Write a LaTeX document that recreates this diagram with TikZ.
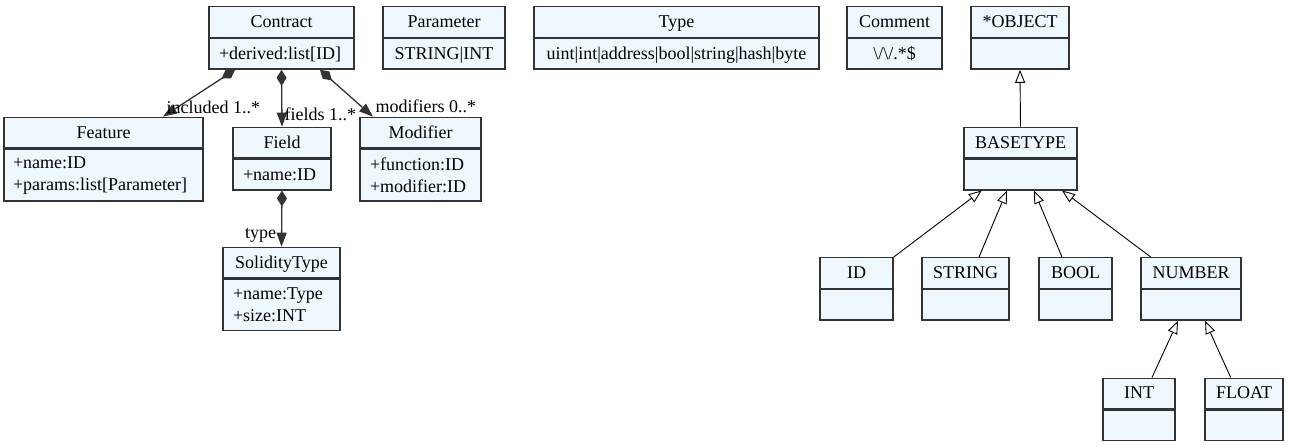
\documentclass[tikz,border=0pt]{standalone}
\usepackage{fontspec}
\setmainfont{Liberation Serif}
\usepackage{tikz}
\usetikzlibrary{positioning,arrows.meta}
\definecolor{classfill}{HTML}{F0F8FF}
\definecolor{classline}{HTML}{333333}

\tikzset{
  head/.style={draw=classline, fill=classfill, line width=1.4pt, anchor=north,
    minimum height=30.5pt, inner sep=0pt, text height=13pt, text depth=2pt},
  body/.style={draw=classline, fill=classfill, line width=1.4pt, anchor=north,
    minimum height=30.5pt, inner xsep=10pt, inner ysep=0pt},
  oneline/.style={text height=13pt, text depth=2pt},
  comp/.style={classline, line width=1.3pt,
    {Diamond[length=16pt,width=10pt]}-{Triangle[length=14pt,width=10pt]}},
  inh/.style={black, line width=0.9pt, -{Triangle[open,length=13pt,width=10pt]}},
  role/.style={inner sep=0pt, text=black}
}

\begin{document}
\begin{tikzpicture}[x=1pt, y=-1pt, font=\fontsize{18}{22}\selectfont]
    \useasboundingbox (0,0) rectangle (1290,445);

    % grammar rules, top row
    \node[head, minimum width=145pt] (contract) at (281.5,6) {Contract};
    \node[body, oneline, minimum width=145pt, text width=125pt, align=left, below=0pt of contract] (contract-b) {+derived:list[ID]};
    \node[head, minimum width=122pt] (parameter) at (444,6) {Parameter};
    \node[body, oneline, minimum width=122pt, below=0pt of parameter] (parameter-b) {STRING|INT};
    \node[head, minimum width=285pt] (type) at (676.5,6) {Type};
    \node[body, oneline, minimum width=285pt, below=0pt of type] (type-b) {uint|int|address|bool|string|hash|byte};
    \node[head, minimum width=95pt] (comment) at (894.5,6) {Comment};
    \node[body, oneline, minimum width=95pt, below=0pt of comment] (comment-b) {\textbackslash/\textbackslash/.*\$};

    % contract members
    \node[head, minimum width=199pt] (feature) at (103.5,116.7) {Feature};
    \node[body, minimum width=199pt, minimum height=51.6pt, text width=181pt, inner xsep=9pt, align=left, below=0pt of feature] (feature-b) {+name:ID\\+params:list[Parameter]};
    \node[head, minimum width=98pt] (field) at (282,126.7) {Field};
    \node[body, oneline, minimum width=98pt, text width=78pt, align=left, below=0pt of field] (field-b) {+name:ID};
    \node[head, minimum width=121pt] (modifier) at (420.5,116.7) {Modifier};
    \node[body, minimum width=121pt, minimum height=51.6pt, text width=101pt, align=left, below=0pt of modifier] (modifier-b) {+function:ID\\+modifier:ID};
    \node[head, minimum width=117pt] (soliditytype) at (281.5,246.7) {SolidityType};
    \node[body, minimum width=117pt, minimum height=51pt, text width=97pt, align=left, below=0pt of soliditytype] (soliditytype-b) {+name:Type\\+size:INT};

    % base types (empty bodies)
    \foreach \cls/\x/\y/\w/\lbl in {object/1020/6/98/*OBJECT, basetype/1020.5/126.7/113/BASETYPE,
        id/856.5/257/73/ID, string/965.5/257/87/STRING, bool/1075.5/257/73/BOOL, number/1191/257/100/NUMBER,
        int/1139/377.5/72/INT, float/1244/377.5/78/FLOAT} {
        \node[head, minimum width=\w pt] (\cls) at (\x,\y) {\lbl};
        \node[body, minimum width=\w pt, below=0pt of \cls] (\cls-b) {};
    }

    % compositions
    \draw[comp] ([xshift=-46.5pt]contract-b.south) -- ([xshift=59.5pt]feature.north)
        node[role, pos=1, anchor=base west, xshift=3pt, yshift=3.7pt] {included 1..*};
    \draw[comp] (contract-b.south) -- (field.north)
        node[role, pos=1, anchor=base west, xshift=2pt, yshift=6.2pt] {fields 1..*};
    \draw[comp] ([xshift=38.5pt]contract-b.south) -- ([xshift=-47.5pt]modifier.north)
        node[role, pos=1, anchor=base west, xshift=2pt, yshift=4.2pt] {modifiers 0..*};
    \draw[comp] (field-b.south) -- (soliditytype.north)
        node[role, pos=1, anchor=base east, xshift=-4.7pt, yshift=8.2pt] {type};

    % inheritance
    \draw[inh] (basetype.north) -- (object-b.south);
    \draw[inh] (id.north east) -- ([xshift=-38.8pt]basetype-b.south);
    \draw[inh] ([xshift=13.5pt]string.north) -- ([xshift=-13.5pt]basetype-b.south);
    \draw[inh] ([xshift=-13.5pt]bool.north) -- ([xshift=13.5pt]basetype-b.south);
    \draw[inh] ([xshift=-40.3pt]number.north) -- ([xshift=41.5pt]basetype-b.south);
    \draw[inh] ([xshift=13pt]int.north) -- ([xshift=-13pt]number-b.south);
    \draw[inh] ([xshift=-13.3pt]float.north) -- ([xshift=14pt]number-b.south);
\end{tikzpicture}
\end{document}
